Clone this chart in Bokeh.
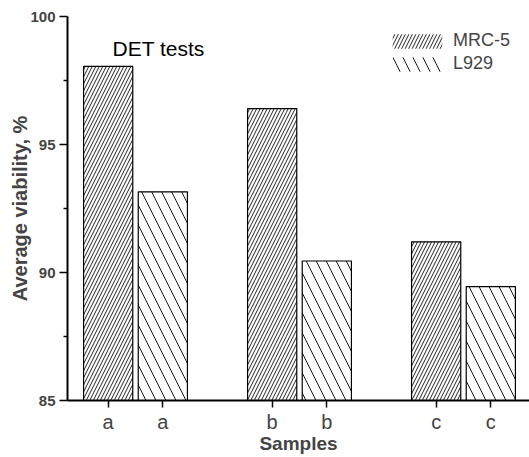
from bokeh.plotting import figure
from bokeh.models import Range1d, FixedTicker, Legend, LegendItem, Label
from bokeh.embed import file_html
from bokeh.resources import INLINE

samples = ["a", "b", "c"]
series = ["MRC-5", "L929"]
mrc5 = [98.05, 96.4, 91.2]
l929 = [93.15, 90.45, 89.45]
y_ticks = [85, 90, 95, 100]
x_title = "Samples"
y_title = "Average viability, %"
annotation = "DET tests"

FONT = "Liberation Sans"
group_step = 6
offset = 1
bar_w = 1.8
centers = [group_step * (i + 1) for i in range(len(samples))]
x_mrc = [c - offset for c in centers]
x_l929 = [c + offset for c in centers]

p = figure(width=529, height=457, output_backend="svg", toolbar_location=None,
           x_range=Range1d(3.512, 20.415), y_range=Range1d(y_ticks[0], y_ticks[-1]),
           min_border_left=67, min_border_top=16, min_border_right=0, min_border_bottom=57)
p.outline_line_color = None
p.grid.visible = False
p.background_fill_color = "white"

hatch_mrc = dict(hatch_pattern="right_diagonal_line", hatch_scale=7, hatch_weight=1,
                 hatch_color="#222222")
hatch_l929 = dict(hatch_pattern="left_diagonal_line", hatch_scale=20, hatch_weight=1,
                  hatch_color="#1a1a1a")

r1 = p.vbar(x=x_mrc, top=mrc5, bottom=y_ticks[0], width=bar_w, fill_color="white",
            line_color=None, **hatch_mrc)
r2 = p.vbar(x=x_l929, top=l929, bottom=y_ticks[0], width=bar_w, fill_color="white",
            line_color=None, **hatch_l929)
# bar outlines
p.vbar(x=x_mrc + x_l929, top=mrc5 + l929, bottom=y_ticks[0], width=bar_w,
       fill_color=None, line_color="black", line_width=1.2)

legend = Legend(items=[LegendItem(label=series[0], renderers=[r1]),
                       LegendItem(label=series[1], renderers=[r2])],
                location=(319, 326), border_line_color=None, background_fill_alpha=0,
                padding=0, margin=0, glyph_width=62, glyph_height=18, label_standoff=5,
                spacing=2, label_text_font=FONT, label_text_font_size="18px", label_height=14)
p.add_layout(legend)

p.add_layout(Label(x=5.16, y=98.75, text=annotation, text_font=FONT, text_font_size="21px",
                   text_baseline="alphabetic", text_align="left", text_color="black"))

# y axis
yax = p.yaxis[0]
yax.ticker = FixedTicker(ticks=y_ticks,
                         minor_ticks=[(a + b) / 2 for a, b in zip(y_ticks[:-1], y_ticks[1:])])
yax.axis_label = y_title
yax.axis_label_text_font = FONT
yax.axis_label_text_font_style = "bold"
yax.axis_label_text_font_size = "20px"
yax.axis_label_standoff = -4
yax.major_label_text_font = FONT
yax.major_label_text_font_style = "bold"
yax.major_label_text_font_size = "15px"
yax.major_label_standoff = 4
yax.major_tick_in = 0
yax.major_tick_out = 8
yax.minor_tick_in = 0
yax.minor_tick_out = 4
yax.axis_line_width = 2
yax.major_tick_line_width = 1.5
yax.minor_tick_line_width = 1.5

# x axis
xax = p.xaxis[0]
ticks = sorted(x_mrc + x_l929)
xax.ticker = FixedTicker(ticks=ticks, minor_ticks=[])
labels = {}
for s, a, b in zip(samples, x_mrc, x_l929):
    labels[a] = s
    labels[b] = s
xax.major_label_overrides = labels
xax.axis_label = x_title
xax.axis_label_text_font = FONT
xax.axis_label_text_font_style = "bold"
xax.axis_label_text_font_size = "19px"
xax.axis_label_standoff = -3
xax.major_label_text_font = FONT
xax.major_label_text_font_size = "20px"
xax.major_label_standoff = 3
xax.major_tick_in = 0
xax.major_tick_out = 7
xax.minor_tick_in = 0
xax.minor_tick_out = 0
xax.axis_line_width = 2
xax.major_tick_line_width = 1.5

open("out.html", "w").write(file_html(p, INLINE))
